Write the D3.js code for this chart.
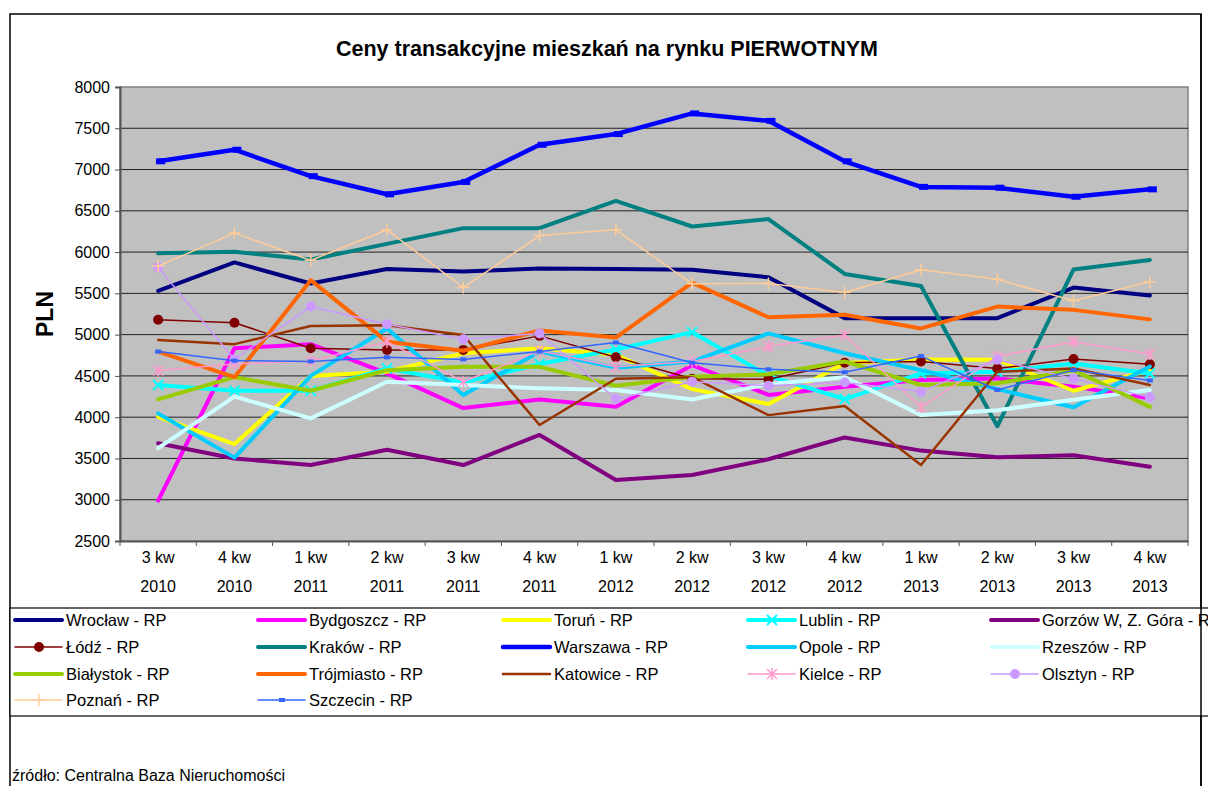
<!DOCTYPE html>
<html>
<head>
<meta charset="utf-8">
<script src="https://cdn.jsdelivr.net/npm/d3@7"></script>
<style>
  body { margin: 0; background: #fff; }
  text { font-family: "Liberation Sans", Arial, sans-serif; }
</style>
</head>
<body>
<div id="chart"></div>
<script>
// kwartały
const quarters = ["3 kw|2010", "4 kw|2010", "1 kw|2011", "2 kw|2011", "3 kw|2011", "4 kw|2011",
  "1 kw|2012", "2 kw|2012", "3 kw|2012", "4 kw|2012", "1 kw|2013", "2 kw|2013", "3 kw|2013", "4 kw|2013"];

const yTicks = [2500, 3000, 3500, 4000, 4500, 5000, 5500, 6000, 6500, 7000, 7500, 8000];

// ceny (PLN/m2)
const wroclaw    = [5530, 5875, 5620, 5795, 5765, 5800, 5795, 5785, 5695, 5200, 5200, 5200, 5570, 5475];
const bydgoszcz  = [2990, 4835, 4885, 4530, 4110, 4215, 4125, 4630, 4270, 4370, 4450, 4470, 4370, 4230];
const torun      = [4005, 3675, 4500, 4550, 4775, 4835, 4755, 4340, 4160, 4655, 4700, 4695, 4320, 4570];
const lublin     = [4390, 4320, 4320, 4590, 4420, 4645, 4820, 5030, 4500, 4220, 4530, 4550, 4650, 4530];
const gorzow     = [3685, 3500, 3420, 3605, 3420, 3785, 3240, 3300, 3490, 3755, 3595, 3515, 3540, 3400];
const lodz       = [5180, 5145, 4835, 4815, 4815, 4985, 4725, 4465, 4460, 4660, 4675, 4590, 4705, 4640];
const krakow     = [5985, 6005, 5910, 6100, 6290, 6290, 6620, 6310, 6400, 5735, 5590, 3890, 5790, 5905];
const warszawa   = [7100, 7240, 6920, 6700, 6850, 7300, 7430, 7680, 7590, 7100, 6790, 6780, 6670, 6760];
const opole      = [4045, 3510, 4500, 5075, 4270, 4795, 4600, 4675, 5015, 4775, 4570, 4340, 4120, 4615];
const rzeszow    = [3625, 4250, 3985, 4430, 4390, 4350, 4330, 4215, 4400, 4485, 4025, 4085, 4210, 4330];
const bialystok  = [4215, 4485, 4320, 4570, 4610, 4610, 4380, 4490, 4520, 4675, 4390, 4410, 4570, 4125];
const trojmiasto = [4795, 4485, 5660, 4915, 4805, 5050, 4965, 5630, 5210, 5240, 5075, 5340, 5300, 5185];
const katowice   = [4935, 4885, 5105, 5115, 4995, 3905, 4465, 4485, 4025, 4135, 3420, 4550, 4590, 4390];
const kielce     = [4565, 4645, 4680, 4915, 4430, 4805, 4610, 4675, 4855, 4995, 4120, 4735, 4915, 4765];
const olsztyn    = [5815, 4700, 5340, 5125, 4945, 5015, 4220, 4430, 4380, 4420, 4310, 4695, 4465, 4240];
const poznan     = [5830, 6230, 5900, 6270, 5570, 6200, 6270, 5615, 5620, 5510, 5785, 5670, 5410, 5640];
const szczecin   = [4795, 4685, 4675, 4725, 4700, 4795, 4905, 4660, 4580, 4545, 4740, 4330, 4570, 4445];

const series = [
  { name: "Wrocław  - RP", values: wroclaw, color: "#000080", width: 4 },
  { name: "Bydgoszcz - RP", values: bydgoszcz, color: "#FF00FF", width: 4 },
  { name: "Toruń - RP", values: torun, color: "#FFFF00", width: 4 },
  { name: "Lublin - RP", values: lublin, color: "#00FFFF", width: 4, marker: "x" },
  { name: "Gorzów  W, Z. Góra - RP", values: gorzow, color: "#800080", width: 4 },
  { name: "Łódź - RP", values: lodz, color: "#800000", width: 1.5, marker: "circle" },
  { name: "Kraków  - RP", values: krakow, color: "#008080", width: 4 },
  { name: "Warszawa - RP", values: warszawa, color: "#0000FF", width: 4.5, marker: "dash" },
  { name: "Opole - RP", values: opole, color: "#00CCFF", width: 4 },
  { name: "Rzeszów  - RP", values: rzeszow, color: "#CCFFFF", width: 4 },
  { name: "Białystok - RP", values: bialystok, color: "#99CC00", width: 4 },
  { name: "Trójmiasto - RP", values: trojmiasto, color: "#FF6600", width: 4 },
  { name: "Katowice - RP", values: katowice, color: "#993300", width: 2.5 },
  { name: "Kielce - RP", values: kielce, color: "#FF99CC", width: 1.5, marker: "star" },
  { name: "Olsztyn - RP", values: olsztyn, color: "#CC99FF", width: 1.5, marker: "circle" },
  { name: "Poznań - RP", values: poznan, color: "#FFCC99", width: 1.5, marker: "plus" },
  { name: "Szczecin - RP", values: szczecin, color: "#3366FF", width: 1.5, marker: "square" }
];

const W = 1208, H = 786;
const plot = { left: 120, right: 1188, top: 87, bottom: 541 };

const svg = d3.select("#chart").append("svg")
  .attr("width", W).attr("height", H);

// ramka wykresu
svg.append("rect")
  .attr("x", 10).attr("y", 14).attr("width", 1191).attr("height", 800)
  .attr("fill", "#fff").attr("stroke", "#000").attr("stroke-width", 1.5);

const x = d3.scaleBand().domain(quarters).range([plot.left, plot.right]).padding(0);
const y = d3.scaleLinear().domain([2500, 8000]).range([plot.bottom, plot.top]);
const cx = q => x(q) + x.bandwidth() / 2;

svg.append("rect")
  .attr("x", plot.left).attr("y", plot.top)
  .attr("width", plot.right - plot.left).attr("height", plot.bottom - plot.top)
  .attr("fill", "#C0C0C0").attr("stroke", "#808080").attr("stroke-width", 1.5);

// linie siatki
svg.append("g").selectAll("line")
  .data(yTicks.filter(v => v > 2500 && v < 8000))
  .join("line")
  .attr("x1", plot.left).attr("x2", plot.right)
  .attr("y1", d => y(d)).attr("y2", d => y(d))
  .attr("stroke", "#222").attr("stroke-width", 1);

// oś Y
const yAxis = svg.append("g")
  .attr("transform", `translate(${plot.left},0)`)
  .call(d3.axisLeft(y).tickValues(yTicks).tickSize(5).tickPadding(5).tickFormat(d3.format("d")));
yAxis.select(".domain").attr("stroke", "#555").attr("stroke-width", 2);
yAxis.selectAll(".tick line").attr("stroke", "#555");
yAxis.selectAll("text").attr("font-size", 16).attr("fill", "#000")
  .style("font-family", "'Liberation Sans', Arial, sans-serif");

// oś X
const xAxis = svg.append("g")
  .attr("transform", `translate(0,${plot.bottom})`)
  .call(d3.axisBottom(x).tickSize(0).tickFormat(""));
xAxis.select(".domain").attr("stroke", "#555").attr("stroke-width", 2);

svg.append("g").selectAll("line")
  .data(quarters.concat(["end"]))
  .join("line")
  .attr("x1", (d, i) => plot.left + i * x.bandwidth())
  .attr("x2", (d, i) => plot.left + i * x.bandwidth())
  .attr("y1", plot.bottom).attr("y2", plot.bottom + 5)
  .attr("stroke", "#555");

const xLabels = svg.append("g").selectAll("text")
  .data(quarters)
  .join("text")
  .attr("x", d => cx(d))
  .attr("text-anchor", "middle")
  .attr("font-size", 16);
xLabels.append("tspan").attr("x", d => cx(d)).attr("y", 563).text(d => d.split("|")[0]);
xLabels.append("tspan").attr("x", d => cx(d)).attr("y", 592).text(d => d.split("|")[1]);

// tytuł
svg.append("text")
  .attr("x", 607).attr("y", 56)
  .attr("text-anchor", "middle")
  .attr("font-size", 21.5).attr("font-weight", "bold")
  .text("Ceny transakcyjne mieszkań na rynku PIERWOTNYM");

svg.append("text")
  .attr("transform", "translate(53,314) rotate(-90)")
  .attr("text-anchor", "middle")
  .attr("font-size", 23).attr("font-weight", "bold")
  .text("PLN");

// markery
function drawMarker(g, type, color, px, py) {
  if (type === "circle") {
    g.append("circle").attr("cx", px).attr("cy", py).attr("r", 5).attr("fill", color);
  } else if (type === "x") {
    g.append("path").attr("d", `M${px - 5},${py - 5}L${px + 5},${py + 5}M${px - 5},${py + 5}L${px + 5},${py - 5}`)
      .attr("stroke", color).attr("stroke-width", 2);
  } else if (type === "star") {
    g.append("path").attr("d", `M${px - 5},${py - 5}L${px + 5},${py + 5}M${px - 5},${py + 5}L${px + 5},${py - 5}M${px},${py - 6}L${px},${py + 6}`)
      .attr("stroke", color).attr("stroke-width", 1.5);
  } else if (type === "plus") {
    g.append("path").attr("d", `M${px - 6},${py}L${px + 6},${py}M${px},${py - 6}L${px},${py + 6}`)
      .attr("stroke", color).attr("stroke-width", 1.5);
  } else if (type === "square") {
    g.append("rect").attr("x", px - 3).attr("y", py - 2).attr("width", 6).attr("height", 4).attr("fill", color);
  } else if (type === "dash") {
    g.append("rect").attr("x", px - 2).attr("y", py - 3).attr("width", 9).attr("height", 6).attr("fill", color);
  }
}

const line = d3.line().x(d => cx(d.q)).y(d => y(d.v));

series.forEach(s => {
  const pts = s.values.map((v, i) => ({ q: quarters[i], v: v }));
  const g = svg.append("g");
  g.append("path")
    .datum(pts)
    .attr("d", line)
    .attr("fill", "none")
    .attr("stroke", s.color)
    .attr("stroke-width", s.width)
    .attr("stroke-linejoin", "round")
    .attr("stroke-linecap", "round");
  if (s.marker) pts.forEach(p => drawMarker(g, s.marker, s.color, cx(p.q), y(p.v)));
});

// legenda
const legend = svg.append("g");
legend.append("rect")
  .attr("x", 10).attr("y", 608).attr("width", 1220).attr("height", 108)
  .attr("fill", "#fff").attr("stroke", "#000").attr("stroke-width", 1.2);

const colX = [15, 258, 503, 748, 991];
const rowY = [620, 647, 674, 700];
series.forEach((s, i) => {
  const lx = colX[i % 5], ly = rowY[Math.floor(i / 5)];
  const g = legend.append("g");
  g.append("line").attr("x1", lx).attr("x2", lx + 47).attr("y1", ly).attr("y2", ly)
    .attr("stroke", s.color).attr("stroke-width", s.width)
    .attr("stroke-linecap", "round");
  if (s.marker && s.marker !== "dash") drawMarker(g, s.marker, s.color, lx + 24, ly);
  g.append("text").attr("x", lx + 51).attr("y", ly + 6)
    .attr("font-size", 16.5).text(s.name);
});

// prawa krawędź ramki na wierzchu
svg.append("line").attr("x1", 1201).attr("x2", 1201).attr("y1", 14).attr("y2", H)
  .attr("stroke", "#000").attr("stroke-width", 1.5);

svg.append("text")
  .attr("x", 12).attr("y", 781)
  .attr("font-size", 16)
  .text("źródło: Centralna Baza Nieruchomości");
</script>
</body>
</html>
